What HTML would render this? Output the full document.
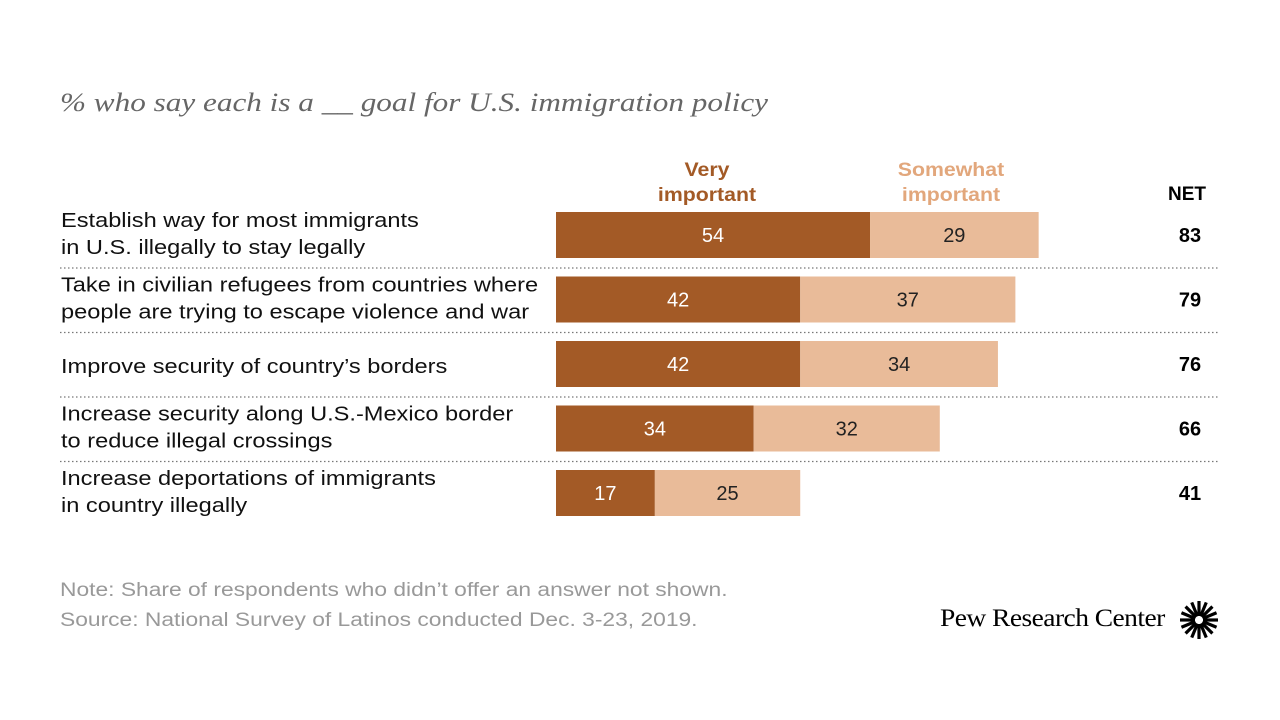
<!DOCTYPE html>
<html><head><meta charset="utf-8"><style>
body{margin:0;width:1280px;height:720px;background:#fff;font-family:"Liberation Sans",sans-serif;position:relative;overflow:hidden}
.t{position:absolute;white-space:nowrap}
</style></head><body>
<div class="t" style="left:60px;top:88px;font-family:'Liberation Serif',serif;font-style:italic;font-size:26px;color:#666;transform:scaleX(1.2);transform-origin:left top">% who say each is a __ goal for U.S. immigration policy</div>
<div class="t" style="left:656px;top:158px;width:102px;text-align:center;font-weight:bold;font-size:19px;line-height:25px;color:#a35a26;transform:scaleX(1.12)">Very<br>important</div>
<div class="t" style="left:890px;top:158px;width:122px;text-align:center;font-weight:bold;font-size:19px;line-height:25px;color:#e2a77c;transform:scaleX(1.12)">Somewhat<br>important</div>
<div class="t" style="left:1168px;top:184px;font-weight:bold;font-size:19px;color:#000">NET</div>
<svg id="chart" width="1280" height="720" style="position:absolute;left:0;top:0"></svg>
<div class="t" style="left:60px;top:580px;font-size:19px;color:#999;transform:scaleX(1.2);transform-origin:left top">Note: Share of respondents who didn’t offer an answer not shown.</div>
<div class="t" style="left:60px;top:610px;font-size:19px;color:#999;transform:scaleX(1.2);transform-origin:left top">Source: National Survey of Latinos conducted Dec. 3-23, 2019.</div>
<div class="t" style="left:940px;top:605px;font-family:'Liberation Serif',serif;font-size:25px;color:#000;letter-spacing:-0.5px;transform:scaleX(1.1);transform-origin:left top">Pew Research Center</div>
<svg width="40" height="40" style="position:absolute;left:1179px;top:600px" id="logo"></svg>
<script>
const categories=[["Establish way for most immigrants","in U.S. illegally to stay legally"],["Take in civilian refugees from countries where","people are trying to escape violence and war"],["Improve security of country’s borders"],["Increase security along U.S.-Mexico border","to reduce illegal crossings"],["Increase deportations of immigrants","in country illegally"]];
const veryImportant=[54,42,42,34,17];
const somewhatImportant=[29,37,34,32,25];
const netValues=[83,79,76,66,41];
const NS="http://www.w3.org/2000/svg";
const svg=document.getElementById('chart');
const x0=556,scale=5.815;
function xs(v){return v*scale;}
function rowY(i){return 212+i*64.5;}
function mk(tag,attrs){const e=document.createElementNS(NS,tag);for(const k in attrs)e.setAttribute(k,attrs[k]);svg.appendChild(e);return e;}
categories.forEach((c,i)=>{
  const y=rowY(i),h=46;
  const w1=xs(veryImportant[i]),w2=xs(somewhatImportant[i]);
  const b1=mk('rect',{x:x0,y:y,width:w1,height:h,fill:'#a35a26'});
  
  
  const b2=mk('rect',{x:x0+w1,y:y,width:w2,height:h,fill:'#e9bb99'});
  
  
  const t1=mk('text',{x:x0+w1/2,y:y+30,'text-anchor':'middle','font-size':'20',fill:'#fff','font-family':'Liberation Sans'});
  t1.textContent=veryImportant[i];
  
  
  const t2=mk('text',{x:x0+w1+w2/2,y:y+30,'text-anchor':'middle','font-size':'20',fill:'#222','font-family':'Liberation Sans'});
  t2.textContent=somewhatImportant[i];
  
  
  const tn=mk('text',{x:1190,y:y+30,'text-anchor':'middle','font-size':'20','font-weight':'bold',fill:'#000','font-family':'Liberation Sans'});
  tn.textContent=netValues[i];
  
  
  const lbl=mk('text',{x:0,y:c.length>1?y+15:y+32,'font-size':'20',fill:'#111','font-family':'Liberation Sans',transform:'translate(61,0) scale(1.18,1)'});
  
  
  c.forEach((line,j)=>{const ts=document.createElementNS(NS,'tspan');ts.setAttribute('x',0);ts.setAttribute('dy',j==0?0:27);ts.textContent=line;lbl.appendChild(ts);});
  if(i<categories.length-1){
    const ln=mk('line',{x1:60,x2:1218,y1:y+56,y2:y+56,stroke:'#777','stroke-width':1.3,'stroke-dasharray':'1.5 2.5'});
    
    
  }
});
const logo=document.getElementById('logo');
for(let k=0;k<16;k++){
  const a=k*Math.PI/8;
  const l=document.createElementNS(NS,'line');
  l.setAttribute('x1',20+4*Math.cos(a));l.setAttribute('y1',20+4*Math.sin(a));
  l.setAttribute('x2',20+19*Math.cos(a));l.setAttribute('y2',20+19*Math.sin(a));
  l.setAttribute('stroke','#000');l.setAttribute('stroke-width','3.2');
  logo.appendChild(l);
}
</script>
</body></html>
